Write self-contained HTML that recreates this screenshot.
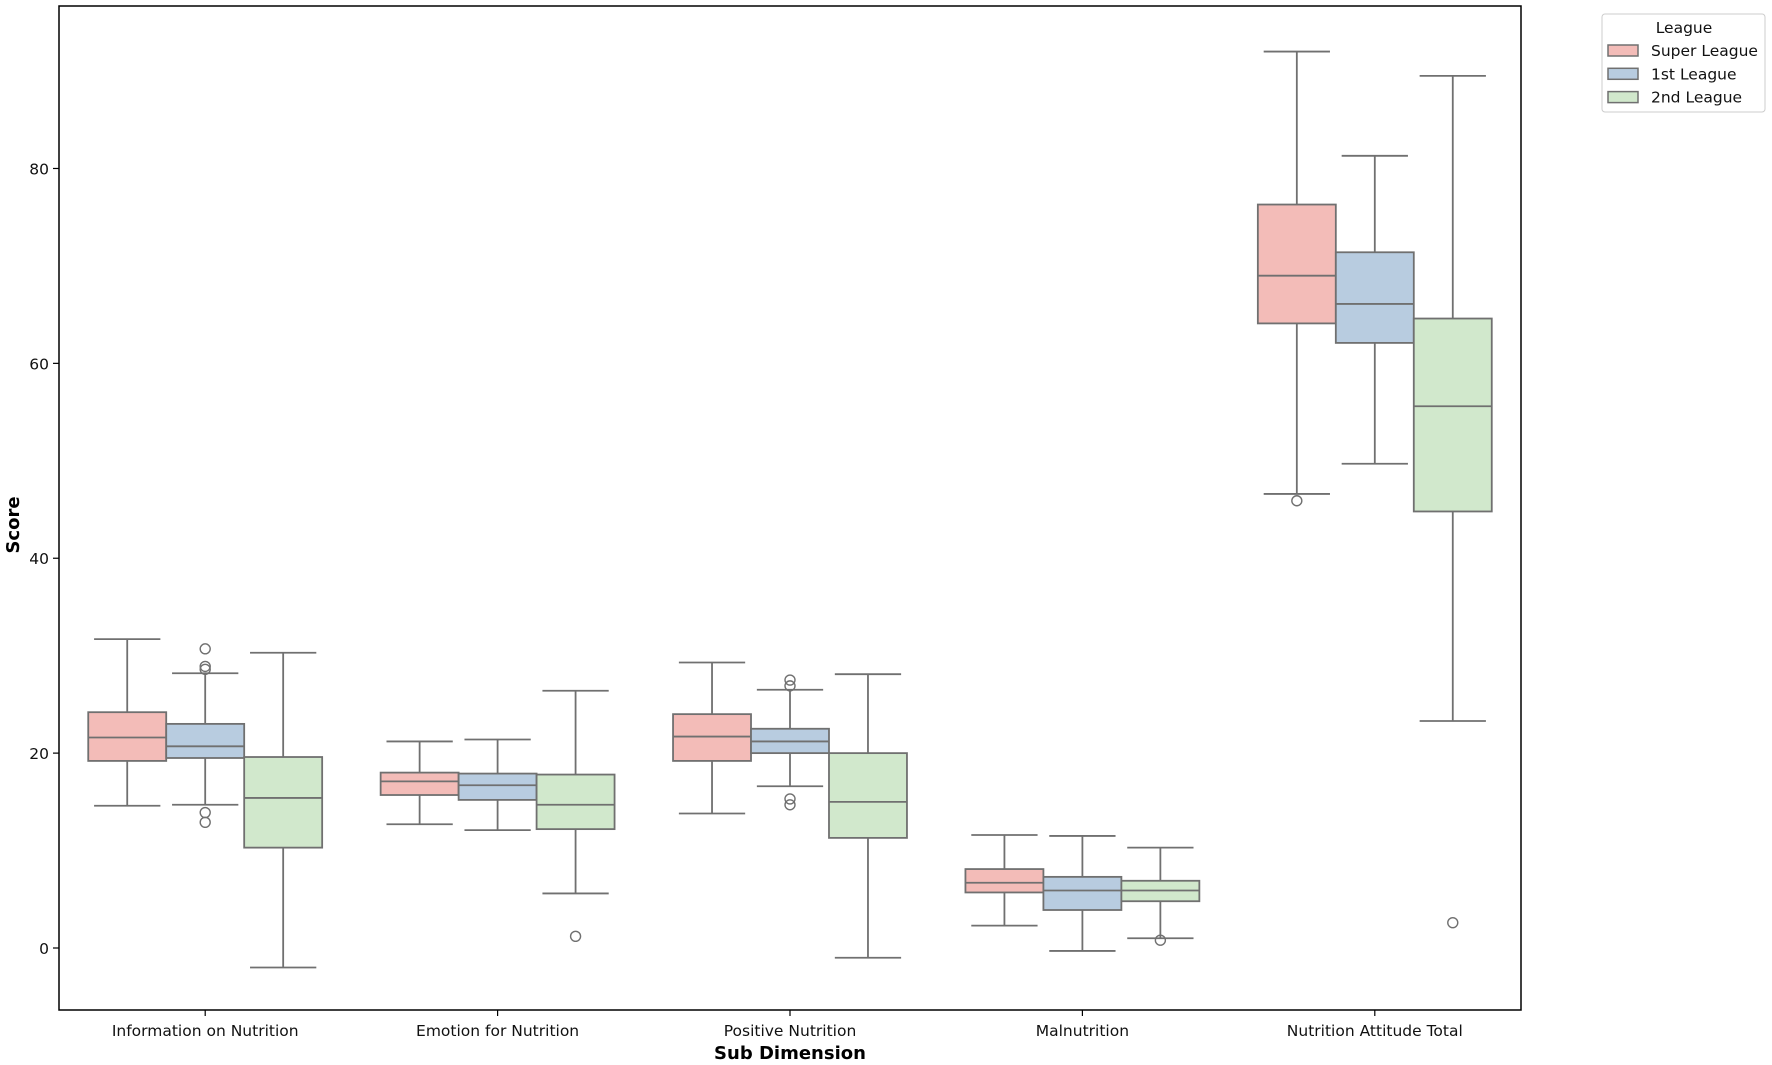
<!DOCTYPE html>
<html><head><meta charset="utf-8"><style>
body{margin:0;background:#fff;}
svg{display:block;font-family:"DejaVu Sans","Liberation Sans",sans-serif;}
</style></head><body>
<svg id="chart" width="1772" height="1065" viewBox="0 0 1772 1065" xmlns="http://www.w3.org/2000/svg"></svg>
<script>
const categories = ["Information on Nutrition","Emotion for Nutrition","Positive Nutrition","Malnutrition","Nutrition Attitude Total"];
const leagues = ["Super League","1st League","2nd League"];
const colors = ["#f3bcb8","#b8cce0","#d1e8cc"];
// [whiskerLow, Q1, median, Q3, whiskerHigh] per category, per league
const superLeague = [[14.6,19.2,21.6,24.2,31.7],[12.7,15.7,17.1,18.0,21.2],[13.8,19.2,21.7,24.0,29.3],[2.3,5.7,6.7,8.1,11.6],[46.6,64.1,69.0,76.3,92.0]];
const firstLeague = [[14.7,19.5,20.7,23.0,28.2],[12.1,15.2,16.7,17.9,21.4],[16.6,20.0,21.2,22.5,26.5],[-0.3,3.9,5.9,7.3,11.5],[49.7,62.1,66.1,71.4,81.3]];
const secondLeague = [[-2.0,10.3,15.4,19.6,30.3],[5.6,12.2,14.7,17.8,26.4],[-1.0,11.3,15.0,20.0,28.1],[1.0,4.8,5.9,6.9,10.3],[23.3,44.8,55.6,64.6,89.5]];
const superFliers = [[],[],[],[],[45.9]];
const firstFliers = [[30.7,28.9,28.6,13.9,12.9],[],[27.5,26.9,15.3,14.7],[],[]];
const secondFliers = [[],[1.2],[],[0.8],[2.6]];
const yTicks = [0,20,40,60,80];

const series=[superLeague,firstLeague,secondLeague];
const fliers=[superFliers,firstFliers,secondFliers];
const L=59,R=1521,T=6,B=1010;
function y(v){return 948-v*9.744;}
const band=(R-L)/categories.length;
function xc(i){return L+band*(i+0.5);}
const bw=band*0.8/3;
const svg=document.getElementById('chart');
const NS="http://www.w3.org/2000/svg";
function mk(t,a,p){const e=document.createElementNS(NS,t);for(const k in a)e.setAttribute(k,a[k]);(p||svg).appendChild(e);return e;}
const edge="#707070";
yTicks.forEach(v=>{
  const g=mk('g',{});
  
  
  mk('line',{x1:L-6,x2:L,y1:y(v),y2:y(v),stroke:'#000','stroke-width':1.2},g);
  const t=mk('text',{x:L-10,y:y(v)+6,'text-anchor':'end','font-size':15.5,fill:'#111'},g);t.textContent=v;
});
categories.forEach((c,i)=>{
  const g=mk('g',{});
  
  
  mk('line',{x1:xc(i),x2:xc(i),y1:B,y2:B+6,stroke:'#000','stroke-width':1.2},g);
  const t=mk('text',{x:xc(i),y:B+26,'text-anchor':'middle','font-size':15.5,fill:'#111'},g);t.textContent=c;
});
series.forEach((s,j)=>{
  s.forEach((d,i)=>{
    const cx=xc(i)+(j-1)*bw;
    const g=mk('g',{});
    
    
    const cap=bw/2*0.85;
    mk('line',{x1:cx,x2:cx,y1:y(d[4]),y2:y(d[3]),stroke:edge,'stroke-width':1.8},g);
    mk('line',{x1:cx,x2:cx,y1:y(d[1]),y2:y(d[0]),stroke:edge,'stroke-width':1.8},g);
    mk('line',{x1:cx-cap,x2:cx+cap,y1:y(d[4]),y2:y(d[4]),stroke:edge,'stroke-width':1.8},g);
    mk('line',{x1:cx-cap,x2:cx+cap,y1:y(d[0]),y2:y(d[0]),stroke:edge,'stroke-width':1.8},g);
    mk('rect',{x:cx-bw/2,y:y(d[3]),width:bw,height:y(d[1])-y(d[3]),fill:colors[j],stroke:edge,'stroke-width':1.8},g);
    mk('line',{x1:cx-bw/2,x2:cx+bw/2,y1:y(d[2]),y2:y(d[2]),stroke:edge,'stroke-width':1.8},g);
    fliers[j][i].forEach(f=>{
      const c=mk('circle',{cx:cx,cy:y(f),r:5,fill:'none',stroke:edge,'stroke-width':1.4},g);
      
      
    });
  });
});
const fr=mk('rect',{x:L,y:T,width:R-L,height:B-T,fill:'none',stroke:'#000','stroke-width':1.5});


const yt=mk('text',{x:0,y:0,transform:'translate(19,525) rotate(-90)','text-anchor':'middle','font-size':18,'font-weight':'bold',fill:'#000'});
yt.textContent='Score';


const xt=mk('text',{x:(L+R)/2,y:1059,'text-anchor':'middle','font-size':18,'font-weight':'bold',fill:'#000'});
xt.textContent='Sub Dimension';


const lg=mk('g',{});


mk('rect',{x:1602,y:14,width:163,height:98,rx:3,fill:'#fff',stroke:'#ccc','stroke-width':1},lg);
const lt=mk('text',{x:1684,y:33,'text-anchor':'middle','font-size':15.5,fill:'#111'},lg);lt.textContent='League';
leagues.forEach((n,j)=>{
  const e=mk('g',{},lg);
  
  
  mk('rect',{x:1608,y:45+j*23.3,width:30,height:11,fill:colors[j],stroke:edge,'stroke-width':1.5},e);
  const t=mk('text',{x:1651,y:56+j*23.3,'font-size':15.5,fill:'#111'},e);t.textContent=n;
});
</script>
</body></html>
